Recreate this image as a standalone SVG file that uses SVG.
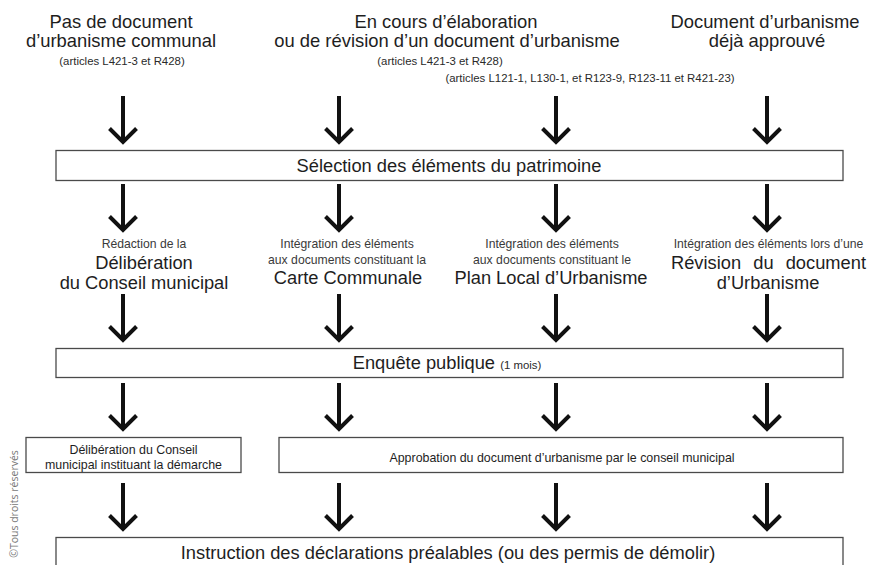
<svg xmlns="http://www.w3.org/2000/svg" xmlns:xlink="http://www.w3.org/1999/xlink" width="872" height="565" viewBox="0 0 872 565">
<style>
  text { font-family: "Liberation Sans", Arial, sans-serif; fill: #1e1e1e; }
  .h { font-size: 18.4px; text-anchor: middle; }
  .s { font-size: 11.4px; text-anchor: middle; fill: #2a2a2a; }
  .l { font-size: 12.2px; text-anchor: middle; fill: #3a3a3a; }
  .b { font-size: 18.3px; text-anchor: middle; }
  .bs { font-size: 12.4px; text-anchor: middle; }
  .box { fill: #fff; stroke: #4a4a4a; stroke-width: 1.3; }
  .arr { fill: none; stroke: #111; stroke-width: 4; stroke-linejoin: miter; stroke-miterlimit: 10; }
  .copy { font-family: "Open Sans", "DejaVu Sans", sans-serif; font-size: 10.5px; fill: #777; text-anchor: middle; }
</style>
<defs>
  <path id="a" class="arr" d="M0,0 V46 M-13.5,32.5 L0,46 L13.5,32.5"/>
</defs>

<g id="connectors">
  <use xlink:href="#a" href="#a" x="123" y="96"/>
  <use xlink:href="#a" href="#a" x="339" y="96"/>
  <use xlink:href="#a" href="#a" x="556" y="96"/>
  <use xlink:href="#a" href="#a" x="767" y="96"/>

  <use xlink:href="#a" href="#a" x="123" y="184"/>
  <use xlink:href="#a" href="#a" x="339" y="184"/>
  <use xlink:href="#a" href="#a" x="556" y="184"/>
  <use xlink:href="#a" href="#a" x="767" y="184"/>

  <use xlink:href="#a" href="#a" x="123" y="294"/>
  <use xlink:href="#a" href="#a" x="339" y="294"/>
  <use xlink:href="#a" href="#a" x="556" y="294"/>
  <use xlink:href="#a" href="#a" x="767" y="294"/>

  <use xlink:href="#a" href="#a" x="123" y="383"/>
  <use xlink:href="#a" href="#a" x="339" y="383"/>
  <use xlink:href="#a" href="#a" x="556" y="383"/>
  <use xlink:href="#a" href="#a" x="767" y="383"/>

  <use xlink:href="#a" href="#a" x="123" y="483"/>
  <use xlink:href="#a" href="#a" x="339" y="483"/>
  <use xlink:href="#a" href="#a" x="556" y="483"/>
  <use xlink:href="#a" href="#a" x="767" y="483"/>
</g>

<g id="head-1">
  <text class="h" x="121" y="28">Pas de document</text>
  <text class="h" x="121" y="47">d’urbanisme communal</text>
  <text class="s" x="122" y="65">(articles L421-3 et R428)</text>
</g>
<g id="head-2">
  <text class="h" x="446" y="28">En cours d’élaboration</text>
  <text class="h" x="447" y="47">ou de révision d’un document d’urbanisme</text>
  <text class="s" x="440" y="65">(articles L421-3 et R428)</text>
  <text class="s" x="590" y="82">(articles L121-1, L130-1, et R123-9, R123-11 et R421-23)</text>
</g>
<g id="head-3">
  <text class="h" x="765" y="28">Document d’urbanisme</text>
  <text class="h" x="767" y="47">déjà approuvé</text>
</g>

<g id="selection">
  <rect class="box" x="56" y="150.5" width="787" height="30"/>
  <text class="b" x="449" y="172">Sélection des éléments du patrimoine</text>
</g>

<g id="step-1">
  <text class="l" x="144" y="248">Rédaction de la</text>
  <text class="b" x="144" y="269">Délibération</text>
  <text class="b" x="144" y="289">du Conseil municipal</text>
</g>
<g id="step-2">
  <text class="l" x="347" y="248">Intégration des éléments</text>
  <text class="l" x="347" y="264">aux documents constituant la</text>
  <text class="b" x="348" y="284">Carte Communale</text>
</g>
<g id="step-3">
  <text class="l" x="552" y="248">Intégration des éléments</text>
  <text class="l" x="552" y="264">aux documents constituant le</text>
  <text class="b" x="551" y="284">Plan Local d’Urbanisme</text>
</g>
<g id="step-4">
  <text class="l" x="768.5" y="248">Intégration des éléments lors d’une</text>
  <text class="b" y="269"><tspan x="671" text-anchor="start">Révision</tspan><tspan x="763.5" text-anchor="middle">du</tspan><tspan x="866" text-anchor="end">document</tspan></text>
  <text class="b" x="768" y="289">d’Urbanisme</text>
</g>

<g id="enquete">
  <rect class="box" x="56" y="348.5" width="787" height="29"/>
  <text class="b" x="447" y="369">Enquête publique <tspan font-size="11.4px" fill="#2a2a2a">(1 mois)</tspan></text>
</g>

<g id="deliberation">
  <rect class="box" x="26" y="437.5" width="215" height="35"/>
  <text class="bs" x="133.5" y="454">Délibération du Conseil</text>
  <text class="bs" x="133.5" y="469">municipal instituant la démarche</text>
</g>
<g id="approbation">
  <rect class="box" x="279" y="437.5" width="564" height="35"/>
  <text class="bs" x="562" y="462">Approbation du document d’urbanisme par le conseil municipal</text>
</g>

<g id="instruction">
  <rect class="box" x="56" y="537.5" width="787" height="40"/>
  <text class="b" x="448" y="559">Instruction des déclarations préalables (ou des permis de démolir)</text>
</g>

<text class="copy" transform="translate(18,504) rotate(-90)">©Tous droits réservés</text>
</svg>
